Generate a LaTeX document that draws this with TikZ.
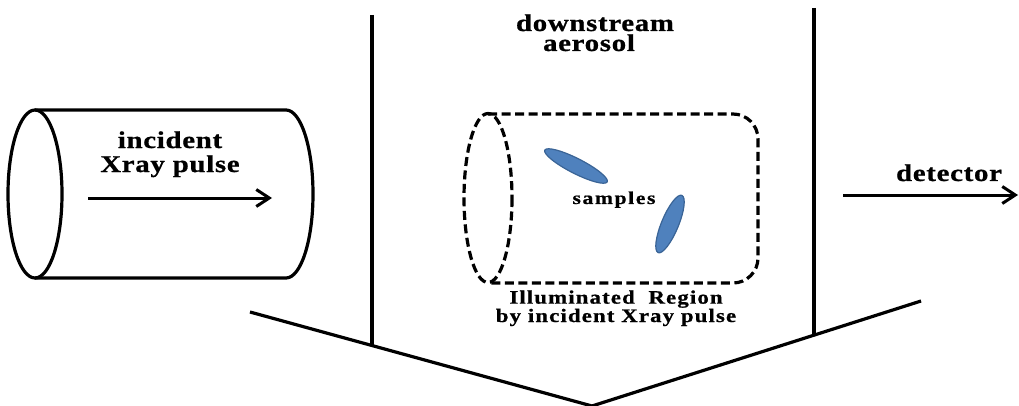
\documentclass[tikz,border=0pt]{standalone}
\usepackage{fontspec}
\setmainfont{Liberation Serif}
\newfontfamily\lbl[FakeStretch=1.2,LetterSpace=3,FakeBold=0.8]{Liberation Serif}
\newfontfamily\lblmid[FakeStretch=1.2,LetterSpace=6,FakeBold=0.8]{Liberation Serif}
\newfontfamily\lblwide[FakeStretch=1.2,LetterSpace=9,FakeBold=0.8]{Liberation Serif}
\usetikzlibrary{arrows.meta}
\definecolor{sampfill}{HTML}{4F81BD}
\definecolor{sampline}{HTML}{3A6496}
\tikzset{
  outline/.style={line width=3.2pt},
  dashline/.style={line width=3.2pt, dash pattern=on 9pt off 4.5pt},
  beam/.style={line width=3pt, -{Straight Barb[length=13pt,width=17pt,line width=3pt]}},
  lbltxt/.style={inner sep=0pt, anchor=base, align=center},
  bigtxt/.style={lbltxt, font={\lbl\bfseries\fontsize{24}{#1}\selectfont}},
  bigtxt/.default=24,
  midtxt/.style={lbltxt, font={\lblmid\bfseries\fontsize{19}{16}\selectfont}},
  smalltxt/.style={lbltxt, font={\lblwide\bfseries\fontsize{18}{18}\selectfont}},
  sample/.style={fill=sampfill, draw=sampline, line width=1.2pt}
}
\begin{document}
\begin{tikzpicture}[x=1pt,y=-1pt]
\useasboundingbox (0,0) rectangle (1019,406);

% incoming beam tube
\draw[outline] (35,194) ellipse [x radius=27, y radius=84];
\draw[outline] (35,110) -- (286,110)
  arc [start angle=-90, end angle=90, x radius=27, y radius=84] -- (35,278);
% two-line labels: the base anchor sits on the last line
\node[bigtxt=24] (inc) at (170,172) {incident\\Xray pulse};
\coordinate (beamA) at (88,198);
\coordinate (beamB) at (272,198);
\draw[beam] (beamA) -- (beamB);

% aerosol chamber walls and funnel
\coordinate (wallL1) at (372,15);
\coordinate (wallL2) at (372,345.5);
\coordinate (wallR1) at (814,8);
\coordinate (wallR2) at (814,334);
\coordinate (funL) at (250,312);
\coordinate (funB) at (592,406);
\coordinate (funR) at (921,301);
\draw[outline] (wallL1) -- (wallL2);
\draw[outline] (wallR1) -- (wallR2);
\draw[outline] (funL) -- (funB) -- (funR);

\node[bigtxt=20] (ds) at (595,51) {downstream\\aerosol\hspace*{12pt}};

% illuminated region
\draw[dashline] (488,198) ellipse [x radius=24, y radius=84.5];
\draw[dashline, rounded corners=25pt] (488,114) -- (758,114) -- (758,283) -- (488,283);

% samples
\draw[sample, rotate around={-27:(576,166)}] (576,166) ellipse [x radius=35, y radius=7.5];
\draw[sample, rotate around={67.5:(670,224)}] (670,224) ellipse [x radius=31, y radius=8.5];
\node[smalltxt] (samp) at (614,204) {samples};

\node[midtxt] (ill) at (616,322) {Illuminated\ \ Region\\by incident Xray pulse};

% outgoing beam
\coordinate (detA) at (843,195);
\coordinate (detB) at (1018,195);
\draw[beam] (detA) -- (detB);
\node[bigtxt] (det) at (949,181) {detector};
\end{tikzpicture}
\end{document}
